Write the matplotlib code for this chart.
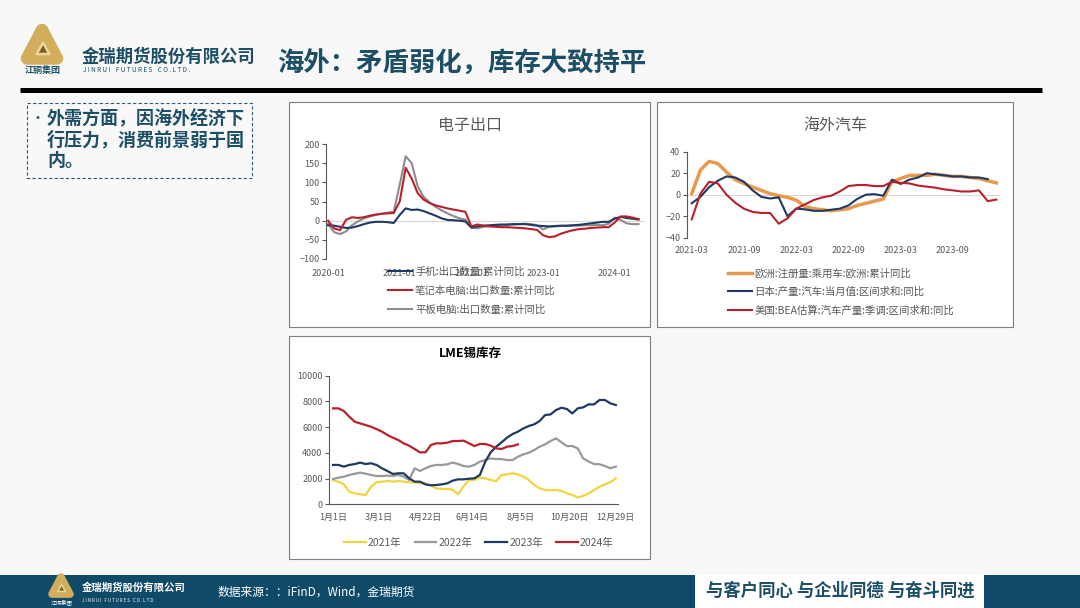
import numpy as np
import matplotlib.pyplot as plt
from matplotlib.patches import Rectangle, Polygon

plt.rcParams['font.family'] = ['Noto Sans CJK SC', 'DejaVu Sans']

## Data
# electronics exports, monthly 2020-01 .. 2024-05, cumulative yoy %
elec_ticks = ['2020-01', '2021-01', '2022-01', '2023-01', '2024-01']
phone = [-12, -13, -16, -19, -18, -14, -9, -5, -3, -3, -4, -6,
         15, 32, 28, 29, 25, 19, 13, 6, 2, 1, 0, -2,
         -18, -15, -13, -12, -11, -10, -10, -9, -9, -9, -11, -13,
         -14, -15, -14, -13, -13, -12, -11, -9, -7, -5, -3, -3,
         5, 10, 7, 5, 3]
notebook = [0, -20, -25, 2, 9, 7, 9, 13, 16, 18, 19, 20,
            50, 138, 110, 72, 55, 46, 40, 36, 32, 29, 26, 23,
            -15, -10, -13, -15, -16, -17, -17, -18, -19, -20, -22, -24,
            -38, -43, -41, -34, -29, -25, -22, -21, -19, -18, -17, -17,
            -5, 11, 11, 8, 4]
tablet = [-8, -30, -35, -28, -12, -2, 6, 11, 15, 18, 21, 23,
          94, 168, 150, 90, 62, 48, 36, 27, 19, 12, 6, 3,
          -18, -20, -16, -14, -13, -12, -11, -10, -9, -8, -9, -12,
          -23, -16, -15, -14, -14, -13, -13, -12, -12, -11, -12, -8,
          8, 2, -7, -9, -9]

# overseas autos, monthly 2021-03 .. 2024-02, yoy %
car_ticks = ['2021-03', '2021-09', '2022-03', '2022-09', '2023-03', '2023-09']
europe = [1, 23, 31, 29, 21, 14, 10.5, 7, 4, 1, -1, -2.5,
          -5, -11, -13, -14, -15, -14, -13, -10, -8, -6, -4, 12,
          15, 18, 18, 18, 19, 18, 17, 17, 16, 15, 13, 11]
japan = [-8, -2, 7, 13, 17, 16, 12, 4, -2, -3.5, -2.5, -20,
         -13, -13.6, -15, -15, -14, -13, -10, -4, 0, 0.5, -1, 14,
         10, 14, 16, 20, 19, 18, 17, 17, 16, 16, 14.5]
usa = [-23, 1, 12, 10.5, 0, -7.5, -13, -16, -17, -17, -27, -22,
       -13, -9, -5, -2.5, -1, 3, 8, 9, 9, 8, 8, 12,
       11, 10.5, 8.5, 7.5, 6.5, 5, 4, 3, 3, 4, -6, -4.5]

# LME tin stocks, weekly samples through the year, tonnes
lme_ticks = ['1月1日', '3月1日', '4月22日', '6月14日', '8月5日', '10月20日', '12月29日']
tin_2021 = [1890, 1760, 1550, 980, 850, 780, 730, 1370, 1710, 1760, 1810, 1760,
            1810, 1760, 1710, 1710, 1630, 1630, 1450, 1240, 1190, 1190, 1150, 780,
            1400, 1890, 1890, 2070, 2020, 1890, 1810, 2280, 2330, 2410, 2330, 2150,
            1890, 1500, 1240, 1110, 1090, 1110, 1040, 850, 730, 540, 650, 850,
            1110, 1370, 1550, 1710, 2020]
tin_2022 = [1970, 2070, 2150, 2280, 2380, 2460, 2380, 2280, 2200, 2200, 2230, 2200,
            2280, 2150, 1890, 2800, 2590, 2800, 2980, 3060, 3060, 3110, 3240, 3130,
            2980, 2930, 3060, 3320, 3440, 3570, 3520, 3520, 3440, 3440, 3700, 3880,
            4010, 4220, 4480, 4660, 4920, 5130, 4820, 4530, 4530, 4350, 3570, 3320,
            3130, 3110, 2980, 2800, 2930]
tin_2023 = [3060, 3060, 2930, 3060, 3130, 3240, 3130, 3190, 3060, 2800, 2590, 2360,
            2410, 2410, 2020, 1760, 1760, 1550, 1480, 1500, 1550, 1630, 1840, 1940,
            1940, 1990, 2020, 2280, 3320, 4040, 4480, 4820, 5180, 5460, 5650, 5900,
            6090, 6220, 6480, 6940, 6990, 7330, 7510, 7410, 7070, 7460, 7540, 7770,
            7770, 8110, 8110, 7850, 7720]
tin_2024 = [7460, 7460, 7250, 6810, 6420, 6290, 6160, 6030, 5850, 5650, 5390, 5180,
            5000, 4740, 4560, 4300, 4040, 4040, 4610, 4740, 4740, 4790, 4920, 4920,
            4950, 4740, 4530, 4690, 4690, 4560, 4350, 4300, 4480, 4530, 4660]

## Figure / slide
W, H = 1080, 608
fig = plt.figure(figsize=(W / 100, H / 100), dpi=100)
fig.patch.set_facecolor('#f8f8f8')

bg = fig.add_axes([0, 0, 1, 1])
bg.set_xlim(0, W)
bg.set_ylim(H, 0)
bg.axis('off')

teal = '#1c4f66'
grey_txt = '#595959'


def px_axes(x0, y0, x1, y1):
    ax = fig.add_axes([x0 / W, 1 - y1 / H, (x1 - x0) / W, (y1 - y0) / H])
    ax.set_facecolor('none')
    return ax


def logo(x, y, s):
    # rough gold ring-triangle mark
    outer = [(x, y - s), (x + 0.5 * s, y - 0.05 * s), (x - 0.5 * s, y - 0.05 * s)]
    inner = [(x + 0.04 * s, y - 0.58 * s), (x + 0.24 * s, y - 0.2 * s), (x - 0.18 * s, y - 0.2 * s)]
    bg.add_patch(Polygon(outer, closed=True, fc='#c9a44e', ec='#d2ae5c', lw=s * 0.3, joinstyle='round'))
    bg.add_patch(Polygon(inner, closed=True, fc='#7d5f24', ec='#ead69a', lw=s * 0.06, joinstyle='round'))


# header
logo(42, 60, 30)
bg.text(43, 70.5, '江铜集团', fontsize=6.5, fontweight='bold', color=teal, ha='center', va='center')
bg.text(82, 57, '金瑞期货股份有限公司', fontsize=12.5, fontweight='bold', color=teal, va='center')
bg.text(83, 69.5, 'J I N R U I    F U T U R E S    C O . L T D .', fontsize=4.6, color=teal, va='center')
bg.text(277, 64, '海外：矛盾弱化，库存大致持平', fontsize=19, fontweight='bold', color=teal, va='center')
bg.plot([20, 1042], [89.5, 89.5], color='black', lw=3.6, solid_capstyle='butt')

# text box on the left
bg.add_patch(Rectangle((27, 103), 225, 75, fill=False, ec='#2f5d75', lw=0.8, ls=(0, (3, 2))))
bg.text(37, 119, '•', fontsize=10, color=teal, ha='center', va='center')
for i, line in enumerate(['外需方面，因海外经济下', '行压力，消费前景弱于国', '内。']):
    bg.text(47, 119 + 21 * i, line, fontsize=13, fontweight='bold', color=teal, va='center')

# footer
bg.add_patch(Rectangle((0, 575), W, 33, fc='#0f4a68', ec='none'))
bg.add_patch(Rectangle((695, 575), 289, 33, fc='white', ec='none'))
bg.text(840, 591, '与客户同心 与企业同德 与奋斗同进', fontsize=12.5, fontweight='bold',
        color=teal, ha='center', va='center')
logo(61, 595, 18)
bg.text(62, 602.5, '江铜集团', fontsize=4, color='white', ha='center', va='center')
bg.text(82, 588, '金瑞期货股份有限公司', fontsize=7.5, fontweight='bold', color='white', va='center')
bg.text(82, 600, 'J I N R U I   F U T U R E S   C O . L T D .', fontsize=3.2, color='white', va='center')
bg.text(218, 592, '数据来源：：iFinD，Wind，金瑞期货', fontsize=8.5, style='italic',
        color='white', va='center')

# chart panels
bg.add_patch(Rectangle((289, 101.5), 361, 225, fc='white', ec='#7f7f7f', lw=0.8))
bg.add_patch(Rectangle((657, 101.7), 356, 225.3, fc='white', ec='#7f7f7f', lw=0.8))
bg.add_patch(Rectangle((289, 336), 361, 223, fc='white', ec='#7f7f7f', lw=0.8))


def style_axis(ax, pad):
    for side in ['top', 'right', 'bottom']:
        ax.spines[side].set_visible(False)
    ax.spines['left'].set_color('#595959')
    ax.spines['left'].set_linewidth(0.8)
    ax.tick_params(axis='y', length=3, width=0.8, color='#595959', pad=1.5,
                   labelsize=6.5, labelcolor=grey_txt)
    ax.tick_params(axis='x', length=0, pad=pad, labelsize=6.5, labelcolor=grey_txt)


## Electronics exports
navy = '#1f3864'
red = '#b8202a'
grey = '#8c8c8c'

ax1 = px_axes(326, 144, 644.5, 259)
ax1.axhline(0, color='#d9d9d9', lw=0.8, zorder=1)
l_phone, = ax1.plot(np.arange(len(phone)), phone, color=navy, lw=1.5, zorder=3)
l_nb, = ax1.plot(np.arange(len(notebook)), notebook, color=red, lw=1.5, zorder=4)
l_tab, = ax1.plot(np.arange(len(tablet)), tablet, color=grey, lw=1.5, zorder=2)
ax1.set_xlim(-0.35, 53)
ax1.set_ylim(-100, 200)
ax1.set_yticks(np.arange(-100, 201, 50))
ax1.set_xticks(np.arange(0, 49, 12))
ax1.set_xticklabels(elec_ticks)
style_axis(ax1, 7)
bg.text(470, 125, '电子出口', fontsize=11.5, color=grey_txt, ha='center', va='center')
ax1.legend([l_phone, l_nb, l_tab],
           ['手机:出口数量:累计同比', '笔记本电脑:出口数量:累计同比', '平板电脑:出口数量:累计同比'],
           loc='upper left', bbox_to_anchor=(388 / W, 1 - 266.5 / H), bbox_transform=fig.transFigure,
           frameon=False, fontsize=7.5, labelcolor=grey_txt, handlelength=2.3, handletextpad=0.3,
           labelspacing=0.85, borderpad=0, borderaxespad=0)

## Overseas autos
orange = '#e8994d'
ax2 = px_axes(686.7, 151.7, 999.9, 237.7)
ax2.axhline(0, color='#d9d9d9', lw=0.8, zorder=1)
l_eu, = ax2.plot(np.arange(len(europe)), europe, color=orange, lw=2.5, zorder=2)
l_jp, = ax2.plot(np.arange(len(japan)), japan, color=navy, lw=1.5, zorder=3)
l_us, = ax2.plot(np.arange(len(usa)), usa, color=red, lw=1.5, zorder=4)
ax2.set_xlim(-0.575, 35.4)
ax2.set_ylim(-40, 40)
ax2.set_yticks([-40, -20, 0, 20, 40])
ax2.set_xticks(np.arange(0, 31, 6))
ax2.set_xticklabels(car_ticks)
style_axis(ax2, 6)
bg.text(835, 125, '海外汽车', fontsize=11.5, color=grey_txt, ha='center', va='center')
ax2.legend([l_eu, l_jp, l_us],
           ['欧洲:注册量:乘用车:欧洲:累计同比', '日本:产量:汽车:当月值:区间求和:同比',
            '美国:BEA估算:汽车产量:季调:区间求和:同比'],
           loc='upper left', bbox_to_anchor=(728 / W, 1 - 268 / H), bbox_transform=fig.transFigure,
           frameon=False, fontsize=7.5, labelcolor=grey_txt, handlelength=2.3, handletextpad=0.25,
           labelspacing=0.8, borderpad=0, borderaxespad=0)

## LME tin stocks
yellow = '#f2d43d'
ax3 = px_axes(329, 375.7, 618, 504.3)
l21, = ax3.plot(np.arange(len(tin_2021)), tin_2021, color=yellow, lw=1.6)
l22, = ax3.plot(np.arange(len(tin_2022)), tin_2022, color='#999999', lw=1.6)
l23, = ax3.plot(np.arange(len(tin_2023)), tin_2023, color=navy, lw=1.6)
l24, = ax3.plot(np.arange(len(tin_2024)), tin_2024, color=red, lw=1.6)
ax3.set_xlim(-0.735, 52.4)
ax3.set_ylim(0, 10000)
ax3.set_yticks(np.arange(0, 10001, 2000))
ax3.set_xticks([0, 8.5, 17, 25.5, 34.5, 43.5, 52])
ax3.set_xticklabels(lme_ticks)
style_axis(ax3, 6.5)
ax3.spines['bottom'].set_visible(True)
ax3.spines['bottom'].set_color('#595959')
ax3.spines['bottom'].set_linewidth(0.8)
bg.text(470, 353, 'LME锡库存', fontsize=9, fontweight='bold', color='black', ha='center', va='center')
ax3.legend([l21, l22, l23, l24], ['2021年', '2022年', '2023年', '2024年'],
           loc='upper left', bbox_to_anchor=(344 / W, 1 - 538 / H), bbox_transform=fig.transFigure,
           ncol=4, frameon=False, fontsize=7.5, labelcolor=grey_txt, handlelength=2.1,
           handletextpad=0.2, columnspacing=1.25, borderpad=0, borderaxespad=0)

fig.savefig('out.png', dpi=100, facecolor=fig.get_facecolor())
